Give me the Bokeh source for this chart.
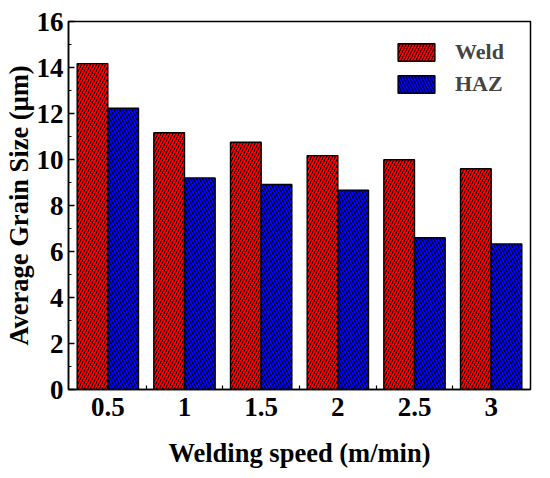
from bokeh.plotting import figure
from bokeh.models import ColumnDataSource, FixedTicker, Range1d, Legend, LegendItem
from bokeh.embed import file_html
from bokeh.resources import INLINE

categories = ["0.5", "1", "1.5", "2", "2.5", "3"]
weld = [14.17, 11.16, 10.75, 10.17, 9.99, 9.60]
haz = [12.23, 9.20, 8.91, 8.67, 6.60, 6.33]
y_ticks = [0, 2, 4, 6, 8, 10, 12, 14, 16]

idx = list(range(len(categories)))
src_w = ColumnDataSource(dict(x=[i - 0.2 for i in idx], top=weld))
src_h = ColumnDataSource(dict(x=[i + 0.2 for i in idx], top=haz))

FONT = "Liberation Serif"

p = figure(width=534, height=470, output_backend="svg", toolbar_location=None,
           x_range=Range1d(-0.513, len(categories) - 1 + 0.513), y_range=Range1d(0, 16),
           min_border_left=65, min_border_right=4, min_border_top=21, min_border_bottom=81)

rw = p.vbar(x="x", top="top", width=0.4, source=src_w, fill_color="#FF0000",
            line_color="black", line_width=1.4, hatch_pattern="/", hatch_color="black",
            hatch_scale=6, hatch_weight=1.0)
rh = p.vbar(x="x", top="top", width=0.4, source=src_h, fill_color="#0000FF",
            line_color="black", line_width=1.4, hatch_pattern="\\", hatch_color="black",
            hatch_scale=6, hatch_weight=1.0)

p.xgrid.visible = False
p.ygrid.visible = False
p.outline_line_color = "black"
p.outline_line_width = 1.5

xa = p.xaxis[0]
xa.ticker = FixedTicker(ticks=idx, minor_ticks=[i + 0.5 for i in idx[:-1]])
xa.major_label_overrides = {i: c for i, c in zip(idx, categories)}
xa.major_tick_in = 0
xa.major_tick_out = 0
xa.minor_tick_in = 4
xa.minor_tick_out = 0
xa.axis_label = "Welding speed (m/min)"

ya = p.yaxis[0]
ya.ticker = FixedTicker(ticks=y_ticks, minor_ticks=[t + 1 for t in y_ticks[:-1]])
ya.major_tick_in = 6
ya.major_tick_out = 0
ya.minor_tick_in = 3
ya.minor_tick_out = 0
ya.axis_label = "Average Grain Size (\u03bcm)"

for ax in (xa, ya):
    ax.axis_line_color = "black"
    ax.axis_line_width = 1.5
    ax.major_tick_line_width = 1.5
    ax.minor_tick_line_width = 1.2
    ax.major_label_text_font = FONT
    ax.major_label_text_font_style = "bold"
    ax.major_label_text_font_size = "27px"
    ax.major_label_text_color = "black"
    ax.axis_label_text_font = FONT
    ax.axis_label_text_font_style = "bold"
    ax.axis_label_text_font_size = "26.5px"
    ax.axis_label_text_color = "black"

xa.major_label_standoff = 8
xa.axis_label_standoff = 19
ya.major_label_standoff = 5
ya.axis_label_standoff = 0

legend = Legend(items=[LegendItem(label="Weld", renderers=[rw]),
                       LegendItem(label="HAZ", renderers=[rh])],
                location=(325, 292))
legend.border_line_color = None
legend.background_fill_alpha = 0
legend.label_text_font = FONT
legend.label_text_font_style = "bold"
legend.label_text_font_size = "22px"
legend.glyph_width = 46
legend.glyph_height = 22
legend.spacing = 6
legend.label_standoff = 16
legend.padding = 0
legend.margin = 0
p.add_layout(legend)

open("out.html", "w").write(file_html(p, INLINE))
